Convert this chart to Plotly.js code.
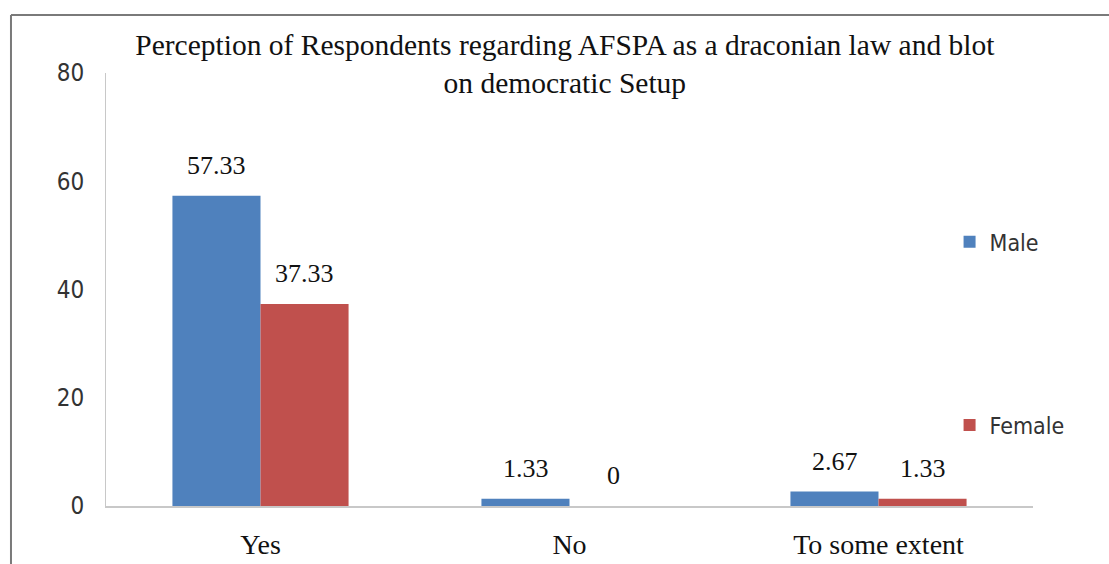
<!DOCTYPE html>
<html>
<head>
<meta charset="utf-8">
<script src="https://cdn.plot.ly/plotly-3.0.1.min.js"></script>
<style>
html,body{margin:0;padding:0;background:#fff;}
#chart{width:1109px;height:564px;}
</style>
</head>
<body>
<div id="chart"></div>
<script>
var categories = ["Yes", "No", "To some extent"];
var maleValues = [57.33, 1.33, 2.67];
var femaleValues = [37.33, 0, 1.33];
var seriesNames = ["Male", "Female"];
var yTicks = [0, 20, 40, 60, 80];
var chartTitle = "Perception of Respondents regarding AFSPA as a draconian law and blot<br>on democratic Setup";

var serif = "Liberation Serif, Times New Roman, serif";
var sans = "Liberation Sans Narrow, DejaVu Sans Condensed, Liberation Sans, Arial, sans-serif";

var traces = [
  {type: "bar", name: seriesNames[0], x: categories, y: maleValues,
   marker: {color: "#4F81BD"}, legend: "legend", hoverinfo: "x+y"},
  {type: "bar", name: seriesNames[1], x: categories, y: femaleValues,
   marker: {color: "#C0504D"}, legend: "legend2", hoverinfo: "x+y"}
];

var annotations = [];
function addLabels(vals, shift) {
  for (var i = 0; i < categories.length; i++) {
    annotations.push({
      x: categories[i], y: vals[i], xref: "x", yref: "y",
      text: String(vals[i]), showarrow: false,
      xshift: shift, yshift: 14, yanchor: "bottom",
      font: {family: serif, size: 26, color: "#111"}
    });
  }
}
addLabels(maleValues, -44);
addLabels(femaleValues, 44);

var layout = {
  width: 1109, height: 564,
  margin: {l: 106, r: 76, t: 73, b: 58},
  paper_bgcolor: "#fff", plot_bgcolor: "#fff",
  barmode: "group", bargap: 0.43, bargroupgap: 0,
  title: {text: chartTitle, x: 0.495, xref: "paper", y: 0.903, yanchor: "middle",
          font: {family: serif, size: 29.5, color: "#111"}},
  xaxis: {type: "category", showgrid: false, showline: true, linecolor: "#c8c8c8", linewidth: 2,
          ticks: "", ticklabelstandoff: 12, tickfont: {family: serif, size: 28, color: "#111"}},
  yaxis: {range: [0, 80], tickvals: yTicks, showgrid: false, showline: true, linecolor: "#c8c8c8",
          linewidth: 1, ticks: "", zeroline: false, ticklabelstandoff: 16,
          tickfont: {family: sans, size: 24, color: "#333"}},
  showlegend: true,
  legend: {x: 0.91, xanchor: "left", y: 0.61, yanchor: "middle", bgcolor: "rgba(0,0,0,0)",
           font: {family: sans, size: 23, color: "#333"}},
  legend2: {x: 0.91, xanchor: "left", y: 0.187, yanchor: "middle", bgcolor: "rgba(0,0,0,0)",
           font: {family: sans, size: 23, color: "#333"}},
  annotations: annotations,
  shapes: [
    {type: "line", xref: "paper", yref: "paper", x0: -0.1025, x1: 1.09, y0: 1.134, y1: 1.134,
     line: {color: "#7a7a7a", width: 2}},
    {type: "line", xref: "paper", yref: "paper", x0: -0.1025, x1: -0.1025, y0: 1.134, y1: -0.14,
     line: {color: "#7a7a7a", width: 2}}
  ]
};

Plotly.newPlot("chart", traces, layout, {displayModeBar: false, staticPlot: true});
</script>
</body>
</html>
